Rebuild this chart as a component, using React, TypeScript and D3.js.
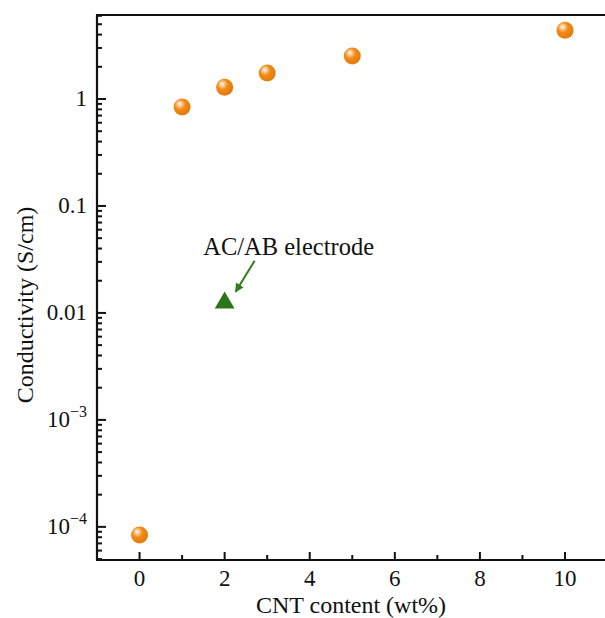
import React, { useEffect, useRef } from 'react';
import * as d3 from 'd3';

const cntContent = [0, 1, 2, 3, 5, 10];
const conductivity = [8.4e-5, 0.84, 1.29, 1.75, 2.52, 4.4];
const refContent = [2];
const refConductivity = [0.0127];
const refLabel = 'AC/AB electrode';
const yMajorTicks = [1e-4, 1e-3, 0.01, 0.1, 1];
const xMajorTicks = [0, 2, 4, 6, 8, 10];
const xMinorTicks = [1, 3, 5, 7, 9];

const App = () => {
  const ref = useRef<SVGSVGElement>(null);

  useEffect(() => {
    const svg = d3.select(ref.current);
    svg.selectAll('*').remove();
    const W = 605, H = 618;
    const left = 97, top = 15, bottom = 560, right = 605;
    const font = '"Liberation Serif", "Times New Roman", serif';
    const fs = 23;

    const x = d3.scaleLinear().domain([-1, 10.94]).range([left, right]);
    const y = d3.scaleLog().domain([4.9e-5, 6.1]).range([bottom, top]);

    const defs = svg.append('defs');
    const grad = defs.append('radialGradient').attr('id', 'ball')
      .attr('cx', '40%').attr('cy', '38%').attr('r', '62%').attr('fx', '35%').attr('fy', '30%');
    grad.append('stop').attr('offset', '0%').attr('stop-color', '#ffffff');
    grad.append('stop').attr('offset', '18%').attr('stop-color', '#fbd2a4');
    grad.append('stop').attr('offset', '50%').attr('stop-color', '#f28a16');
    grad.append('stop').attr('offset', '100%').attr('stop-color', '#e37a0a');

    const marker = defs.append('marker').attr('id', 'arrow')
      .attr('viewBox', '0 0 10 10').attr('refX', 9).attr('refY', 5)
      .attr('markerWidth', 4.5).attr('markerHeight', 4.5).attr('orient', 'auto');
    marker.append('path').attr('d', 'M0,0 L10,5 L0,10 z').attr('fill', '#2e7d1a');

    const g = svg.append('g');

    // axes lines
    g.append('line').attr('x1', left).attr('x2', left).attr('y1', top).attr('y2', bottom)
      .attr('stroke', '#111').attr('stroke-width', 2.2);
    g.append('line').attr('x1', left - 1).attr('x2', right).attr('y1', bottom).attr('y2', bottom)
      .attr('stroke', '#111').attr('stroke-width', 2.2);
    g.append('line').attr('x1', left - 1).attr('x2', right).attr('y1', top).attr('y2', top)
      .attr('stroke', '#111').attr('stroke-width', 2.2);

    // y ticks
    const [lo, hi] = y.domain();
    const minor: number[] = [];
    for (let e = -5; e <= 1; e++) {
      for (let m = 2; m <= 9; m++) {
        const v = m * Math.pow(10, e);
        if (v > lo && v < hi) minor.push(v);
      }
    }
    g.selectAll('.ymin').data(minor).enter().append('line')
      .attr('x1', left).attr('x2', left + 5)
      .attr('y1', d => y(d)).attr('y2', d => y(d))
      .attr('stroke', '#111').attr('stroke-width', 2);
    g.selectAll('.ymaj').data(yMajorTicks).enter().append('line')
      .attr('x1', left).attr('x2', left + 9)
      .attr('y1', d => y(d)).attr('y2', d => y(d))
      .attr('stroke', '#111').attr('stroke-width', 2);

    const ylab = g.selectAll('.ylab').data(yMajorTicks).enter().append('text')
      .attr('x', left - 10).attr('y', d => y(d) + 7)
      .attr('text-anchor', 'end')
      .attr('font-family', font).attr('font-size', fs).attr('fill', '#111');
    ylab.each(function (d) {
      const t = d3.select(this);
      if (d >= 0.01) {
        t.text(String(d));
      } else {
        const e = Math.round(Math.log10(d));
        t.append('tspan').text('10');
        t.append('tspan').attr('dy', -10).attr('font-size', 16).text('\u2212' + Math.abs(e));
      }
    });

    // x ticks
    g.selectAll('.xmaj').data(xMajorTicks).enter().append('line')
      .attr('x1', d => x(d)).attr('x2', d => x(d))
      .attr('y1', bottom).attr('y2', bottom - 8)
      .attr('stroke', '#111').attr('stroke-width', 2);
    g.selectAll('.xmin').data(xMinorTicks).enter().append('line')
      .attr('x1', d => x(d)).attr('x2', d => x(d))
      .attr('y1', bottom).attr('y2', bottom - 5)
      .attr('stroke', '#111').attr('stroke-width', 2);
    g.selectAll('.xlab').data(xMajorTicks).enter().append('text')
      .attr('x', d => x(d)).attr('y', bottom + 26)
      .attr('text-anchor', 'middle')
      .attr('font-family', font).attr('font-size', fs).attr('fill', '#111')
      .text(d => String(d));

    // axis titles
    g.append('text').attr('x', (left + right) / 2).attr('y', 613)
      .attr('text-anchor', 'middle').attr('font-family', font).attr('font-size', 24)
      .attr('fill', '#111').text('CNT content (wt%)');
    g.append('text').attr('transform', 'translate(33,305) rotate(-90)')
      .attr('text-anchor', 'middle').attr('font-family', font).attr('font-size', 24)
      .attr('fill', '#111').text('Conductivity (S/cm)');

    // data points
    g.selectAll('.pt').data(cntContent).enter().append('circle')
      .attr('cx', d => x(d)).attr('cy', (d, i) => y(conductivity[i]))
      .attr('r', 8.5).attr('fill', 'url(#ball)');

    // reference triangle
    const tri = d3.symbol().type(d3.symbolTriangle).size(170);
    g.selectAll('.tri').data(refContent).enter().append('path')
      .attr('d', tri)
      .attr('transform', (d, i) => `translate(${x(d)},${y(refConductivity[i]) + 1})`)
      .attr('fill', '#2b7518');

    // annotation
    const ax = x(refContent[0]), ay = y(refConductivity[0]);
    g.append('line')
      .attr('x1', ax + 30).attr('y1', ay - 41)
      .attr('x2', ax + 11).attr('y2', ay - 10)
      .attr('stroke', '#2e7d1a').attr('stroke-width', 2)
      .attr('marker-end', 'url(#arrow)');
    g.append('text').attr('x', ax + 64).attr('y', ay - 47)
      .attr('text-anchor', 'middle').attr('font-family', font).attr('font-size', 24.5)
      .attr('fill', '#111').text(refLabel);

    svg.attr('width', W).attr('height', H);
  }, []);

  return (
    <svg ref={ref} width={605} height={618}
      style={{ position: 'absolute', left: 0, top: 0, background: '#fff' }} />
  );
};

export default App;
